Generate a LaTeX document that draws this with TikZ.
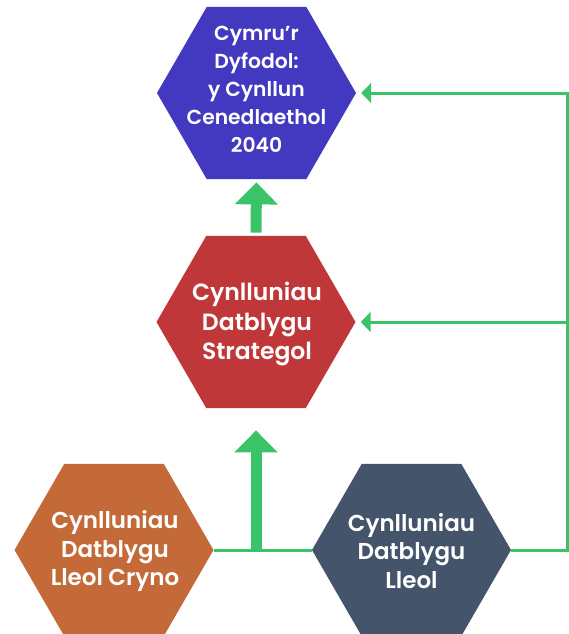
\documentclass[tikz,border=0pt]{standalone}
\usepackage{fontspec}
\setmainfont{Poppins SemiBold}
\usetikzlibrary{shapes.geometric,arrows.meta,calc}
\definecolor{hexblue}{HTML}{4338C0}
\definecolor{hexred}{HTML}{C0373A}
\definecolor{hexorange}{HTML}{C46A38}
\definecolor{hexslate}{HTML}{44546A}
\definecolor{linkgreen}{HTML}{3AC46A}
\begin{document}
\begin{tikzpicture}[x=1pt,y=-1pt,
  hexa/.style={regular polygon, regular polygon sides=6, minimum size=199pt, inner sep=0pt, draw=none},
  hextext/.style={text=white, align=center, inner sep=0pt},
  link/.style={draw=linkgreen, line width=3pt},
  bigarrow/.style={draw=linkgreen, line width=11pt, -{Triangle[length=22pt,width=42pt]}},
  smallarrow/.style={link, -{Triangle[length=10pt,width=20pt]}}]
\useasboundingbox (0,0) rectangle (568,634);
% hexagons
\node[hexa, fill=hexblue] (top) at (256.5,93) {};
\node[hexa, fill=hexred] (mid) at (256,322) {};
\node[hexa, fill=hexorange] (bl) at (114,550) {};
\node[hexa, fill=hexslate] (br) at (411.5,550) {};
% texts
\node[hextext, font=\fontsize{20.3}{28}\selectfont] (toptxt) at (256.5,89.5) {Cymru’r\\Dyfodol:\\y Cynllun\\Cenedlaethol\\2040};
\node[hextext, font=\fontsize{23.5}{29.5}\selectfont] (midtxt) at (257,324) {Cynlluniau\\Datblygu\\Strategol};
\node[hextext, font=\fontsize{23}{28.5}\selectfont] (bltxt) at (115,551) {Cynlluniau\\Datblygu\\Lleol Cryno};
\node[hextext, font=\fontsize{23}{28.5}\selectfont] (brtxt) at (411.5,551) {Cynlluniau\\Datblygu\\Lleol};
% connectors
\coordinate (junc) at (mid.south |- bl.east);
\coordinate (rb) at (567,550);
\coordinate (rt) at (rb |- top.east);
\coordinate (rm) at (rb |- mid.east);
\draw[link] (bl.east) -- (br.west);
\draw[bigarrow, shorten <=3pt, shorten >=3pt] (mid.north) -- (top.south);
\draw[bigarrow, shorten >=22pt] (junc) -- (mid.south);
\draw[smallarrow, shorten >=5pt] (br.east) -- (rb) -- (rt) -- (top.east);
\draw[smallarrow, shorten >=5pt] (rm) -- (mid.east);
\end{tikzpicture}
\end{document}
